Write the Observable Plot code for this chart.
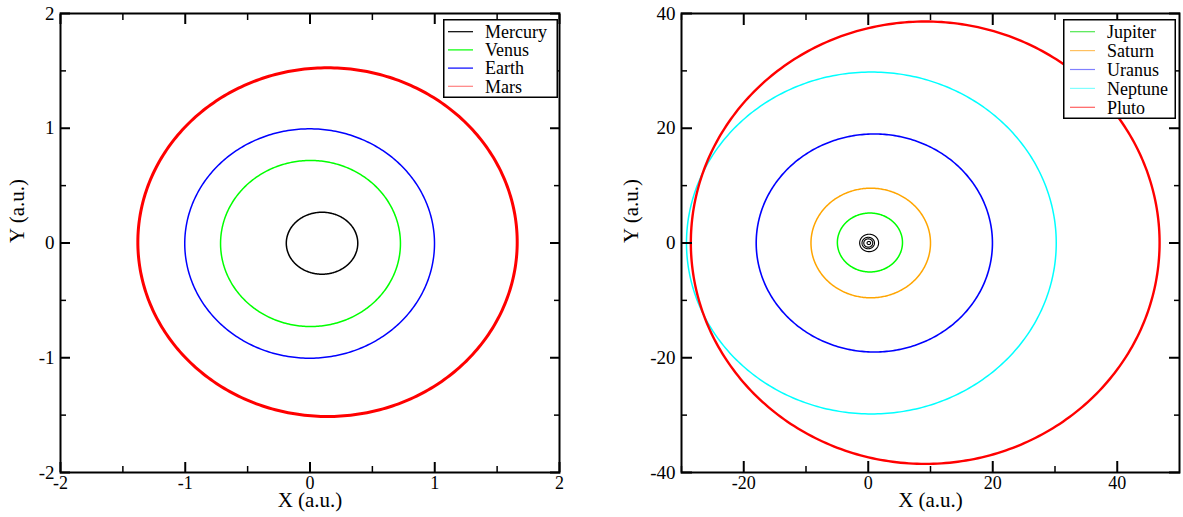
<!DOCTYPE html>
<html><head><meta charset="utf-8">
<script src="https://cdn.jsdelivr.net/npm/d3@7"></script>
<script src="https://cdn.jsdelivr.net/npm/@observablehq/plot@0.6"></script>
<style>
html,body{margin:0;padding:0;background:#fff;}
#wrap{position:relative;width:1183px;height:517px;display:flex;font-family:"Liberation Serif",serif;}
#wrap svg{display:block;}
#wrap svg text{font-family:"Liberation Serif",serif;}
.legend{position:absolute;background:#fff;}
</style></head><body><div id="wrap"></div>
<script>
// ---- Inner planets (left panel), orbit extents (a.u.)
const innerNames  = ["Mercury", "Venus", "Earth", "Mars"];
const innerXMin   = [-0.19, -0.717, -1.004, -1.38];
const innerXMax   = [0.383, 0.725, 0.998, 1.661];
const innerYMin   = [-0.272, -0.728, -1.004, -1.512];
const innerYMax   = [0.268, 0.719, 0.995, 1.527];
const innerColors = ["#000000", "#00ff00", "#0000ff", "#ff0000"];
const innerLegendColors = ["#000000", "#00ff00", "#0000ff", "#ff8080"];

// ---- Outer planets (right panel)
const outerNames  = ["Jupiter", "Saturn", "Uranus", "Neptune", "Pluto"];
const outerXMin   = [-4.96, -9.2, -18.0, -29.2, -28.5];
const outerXMax   = [5.5, 10.0, 19.95, 30.2, 46.8];
const outerYMin   = [-5.05, -9.55, -19.0, -29.8, -38.5];
const outerYMax   = [5.22, 9.55, 19.0, 29.8, 38.6];
const outerColors = ["#00ff00", "#ffa500", "#0000ff", "#00ffff", "#ff0000"];
const outerLegendColors = ["#50e850", "#ffc060", "#8080ff", "#80ffff", "#ff6060"];

// ---- Axes
const leftXTicks  = [-2, -1, 0, 1, 2];
const leftXMinor  = [-1.5, -0.5, 0.5, 1.5];
const leftYTicks  = [-2, -1, 0, 1, 2];
const leftYMinor  = [-1.5, -0.5, 0.5, 1.5];
const rightXTicks = [-20, 0, 20, 40];
const rightXMinor = [-30, -10, 10, 30];
const rightYTicks = [-40, -20, 0, 20, 40];
const rightYMinor = [-30, -10, 10, 30];

const FONT = '"Liberation Serif",serif';

function orbit(i, xMin, xMax, yMin, yMax) {
  const cx = (xMin[i] + xMax[i]) / 2, cy = (yMin[i] + yMax[i]) / 2;
  const a = (xMax[i] - xMin[i]) / 2, b = (yMax[i] - yMin[i]) / 2;
  return d3.range(0, 361).map(t => ({x: cx + a * Math.cos(t * Math.PI / 180), y: cy + b * Math.sin(t * Math.PI / 180)}));
}

function panel({width, marginLeft, marginRight, xDomain, yDomain, xMajor, xMinor, yMajor, yMinor, lines, majorLen, minorLen, yLabelDx}) {
  const fmt = d => String(d);
  const tk = (axis, ticks, anchor, len, sw) => axis(ticks, {anchor, tickSize: -len, strokeWidth: sw, fill: "none", label: null});
  return Plot.plot({
    width, height: 517, marginLeft, marginRight, marginTop: 13, marginBottom: 45,
    style: {fontFamily: FONT, fontSize: "19px", color: "black", background: "white"},
    x: {domain: xDomain}, y: {domain: yDomain},
    marks: [
      ...lines,
      tk(Plot.axisX, xMajor, "bottom", majorLen, 2),
      tk(Plot.axisX, xMajor, "top", majorLen, 2),
      tk(Plot.axisX, xMinor, "bottom", minorLen, 1.5),
      tk(Plot.axisX, xMinor, "top", minorLen, 1.5),
      tk(Plot.axisY, yMajor, "left", majorLen, 2),
      tk(Plot.axisY, yMajor, "right", majorLen, 2),
      tk(Plot.axisY, yMinor, "left", minorLen, 1.5),
      tk(Plot.axisY, yMinor, "right", minorLen, 1.5),
      Plot.axisX(xMajor, {anchor: "bottom", tickSize: 0, tickPadding: 4, tickFormat: fmt, fontSize: 18, label: null}),
      Plot.axisY(yMajor, {anchor: "left", tickSize: 0, tickPadding: 6, tickFormat: fmt, fontSize: 19, label: null}),
      Plot.text(["X (a.u.)"], {text: d => d, frameAnchor: "bottom", dy: 34, fontSize: 21}),
      Plot.text(["Y (a.u.)"], {text: d => d, frameAnchor: "left", dx: yLabelDx, rotate: -90, fontSize: 21}),
      Plot.frame({stroke: "black", strokeWidth: 2})
    ]
  });
}

const innerWidths = [1.5, 1.5, 1.5, 3];
const leftLines = innerNames.map((n, i) =>
  Plot.line(orbit(i, innerXMin, innerXMax, innerYMin, innerYMax), {x: "x", y: "y", stroke: innerColors[i], strokeWidth: innerWidths[i]}));

const outerWidths = [1.5, 1.5, 1.6, 1.5, 2.4];
const rightLines = [
  ...innerNames.map((n, i) =>
    Plot.line(orbit(i, innerXMin, innerXMax, innerYMin, innerYMax), {x: "x", y: "y", stroke: "black", strokeWidth: 1.1})),
  ...outerNames.map((n, i) =>
    Plot.line(orbit(i, outerXMin, outerXMax, outerYMin, outerYMax), {x: "x", y: "y", stroke: outerColors[i], strokeWidth: outerWidths[i]}))
];

const wrap = document.getElementById("wrap");
wrap.appendChild(panel({
  width: 600, marginLeft: 60, marginRight: 41, xDomain: [-2, 2], yDomain: [-2, 2],
  xMajor: leftXTicks, xMinor: leftXMinor, yMajor: leftYTicks, yMinor: leftYMinor,
  lines: leftLines, majorLen: 10, minorLen: 6, yLabelDx: -43
}));
wrap.appendChild(panel({
  width: 583, marginLeft: 81, marginRight: 4, xDomain: [-30, 50], yDomain: [-40, 40],
  xMajor: rightXTicks, xMinor: rightXMinor, yMajor: rightYTicks, yMinor: rightYMinor,
  lines: rightLines, majorLen: 11, minorLen: 6, yLabelDx: -50
}));

function legend(names, colors, left, top, w, h, first, step, lx0, lx1, tx) {
  const svg = d3.select(wrap).append("svg").attr("class", "legend")
    .style("left", left + "px").style("top", top + "px")
    .attr("width", w).attr("height", h);
  svg.append("rect").attr("x", 0.75).attr("y", 0.75).attr("width", w - 1.5).attr("height", h - 1.5)
    .attr("fill", "white").attr("stroke", "black").attr("stroke-width", 1.5);
  names.forEach((n, i) => {
    const y = first + i * step;
    svg.append("line").attr("x1", lx0).attr("x2", lx1).attr("y1", y).attr("y2", y)
      .attr("stroke", colors[i]).attr("stroke-width", 1.2);
    svg.append("text").attr("x", tx).attr("y", y).attr("dy", "0.35em")
      .style("font-family", FONT).attr("font-size", 18)
      .text(n);
  });
}
legend(innerNames, innerLegendColors, 443, 19, 115, 79, 12.7, 18.2, 5, 30, 42);
legend(outerNames, outerLegendColors, 1063, 19, 113, 100, 12.7, 18.9, 7, 32, 44);
</script></body></html>
